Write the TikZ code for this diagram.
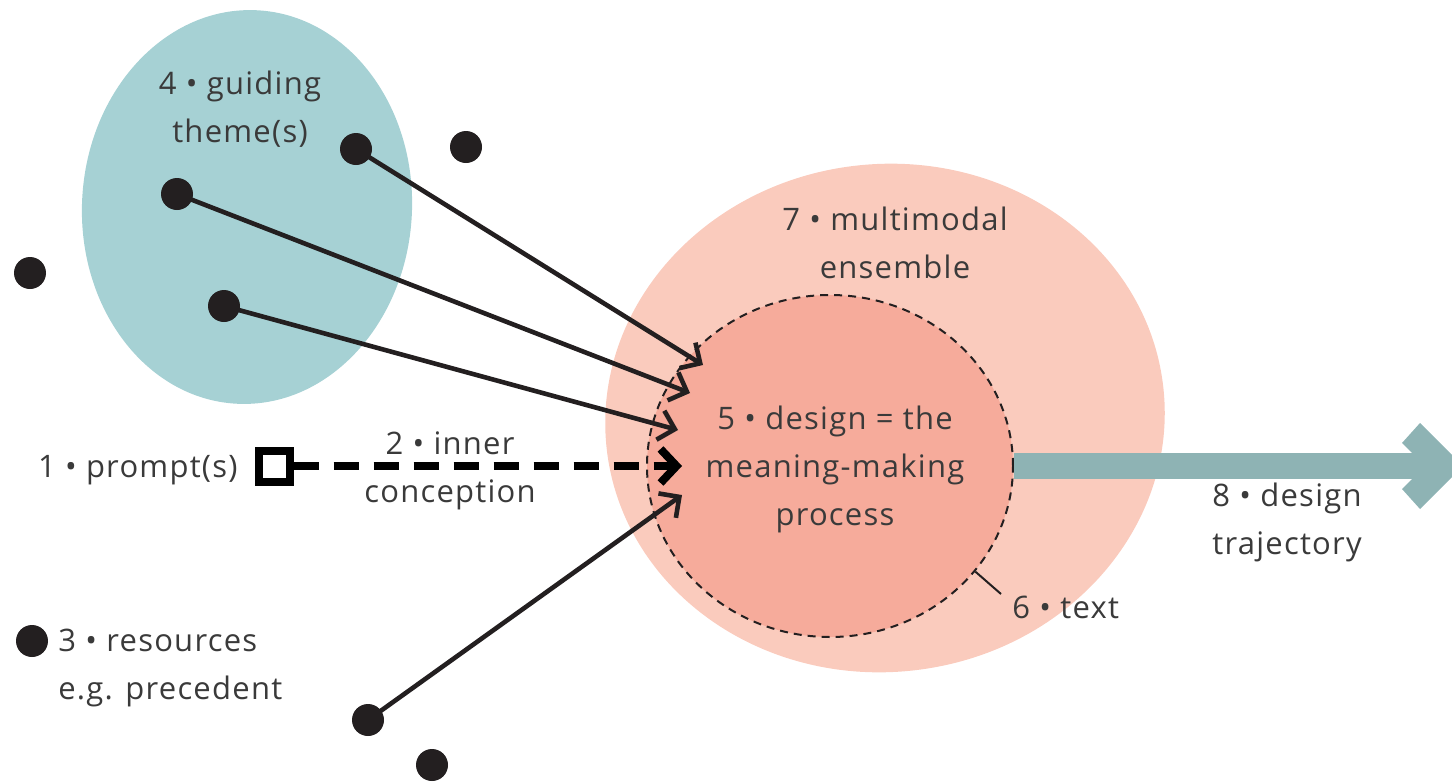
\documentclass[tikz,border=0pt]{standalone}
\usepackage{fontspec}
\setmainfont{Open Sans}[LetterSpace=4]
\usetikzlibrary{arrows.meta,shapes.geometric}

\definecolor{themeteal}{HTML}{A6D1D4}
\definecolor{ensemblec}{HTML}{FACBBD}
\definecolor{corec}{HTML}{F6AB9B}
\definecolor{trajc}{HTML}{8EB3B4}
\definecolor{inkc}{HTML}{231F20}
\definecolor{textc}{HTML}{3A3A3A}

\tikzset{
  lbl/.style={text=textc, font=\fontsize{15.5pt}{24pt}\selectfont, inner sep=0pt, anchor=base},
  blob/.style={circle, fill=inkc, inner sep=0pt, minimum size=16pt},
  link/.style={draw=inkc, line width=2.3pt, -{Straight Barb[length=7.5pt,width=15pt,line width=2.3pt]}},
  conceive/.style={draw=black, line width=4pt, dash pattern=on 12.5pt off 7.5pt,
    -{Straight Barb[length=8pt,width=17pt,line width=4pt]}},
}

\begin{document}
\begin{tikzpicture}[x=0.5pt,y=-0.5pt]
\useasboundingbox (0,0) rectangle (1452,782);

% background regions
\fill[themeteal] (247,207) ellipse [x radius=82.5pt, y radius=98.5pt, rotate=-3];
\fill[ensemblec] (885,418) ellipse [x radius=140pt, y radius=127pt, rotate=6];

% design core and trajectory arrow
\node[ellipse, fill=corec, draw=inkc, line width=1pt, dash pattern=on 4pt off 3pt,
      minimum width=183pt, minimum height=171pt, inner sep=0pt] (core) at (830,466) {};
\coordinate (trajend) at (1432,466);
\draw[trajc, line width=13pt] (core.east) -- (trajend);
\fill[trajc] (1402,443) -- (1420,423) -- (1463,466) -- (1420,509) -- (1402,489) -- (1425,466) -- cycle;

% dots
\node[blob] (dA) at (356,149) {};
\node[blob] (dB) at (466,147) {};
\node[blob] (dC) at (177,194) {};
\node[blob] (dD) at (30,273) {};
\node[blob] (dE) at (224,306) {};
\node[blob] (dF) at (32,641) {};
\node[blob] (dG) at (368,720) {};
\node[blob] (dH) at (432,765) {};

% arrow ends at the core
\coordinate (t1) at (703,365);
\coordinate (t2) at (690,393);
\coordinate (t3) at (678,430);
\coordinate (t4) at (682,466);
\coordinate (t5) at (682,495);

\draw[link] (dA.center) -- (t1);
\draw[link] (dC.center) -- (t2);
\draw[link] (dE.center) -- (t3);
\draw[link] (dG.center) -- (t5);

% prompt square and inner conception
\node[draw=black, line width=4pt, fill=white, minimum size=15.5pt, inner sep=0pt] (sq) at (274,466) {};
\draw[conceive] (sq.east) -- (t4);

% text marker
\coordinate (tickend) at (1001,594);
\draw[inkc, line width=1pt] (core.-36) -- (tickend);

% labels (multi-line nodes sit on the baseline of their last line)
\node[lbl, align=center] (lguide) at (240,142) {4 • guiding\\theme(s)};
\node[lbl, align=center] (lens) at (895,278) {7 • multimodal\\ensemble};
\node[lbl, align=center] (ldes) at (835,525) {5 • design = the\\meaning-making\\process};
\node[lbl, anchor=base east] (lprompt) at (238,477) {1 • prompt(s)};
\node[lbl, align=center] (linner) at (450,502) {2 • inner\\conception};
\node[lbl, anchor=base west, align=left] (ltraj) at (1212,554) {8 • design\\trajectory};
\node[lbl, anchor=base west] (ltext) at (1012,618) {6 • text};
\node[lbl, anchor=base west, align=left] (lres) at (58,699) {3 • resources\\e.g. precedent};
\end{tikzpicture}
\end{document}
